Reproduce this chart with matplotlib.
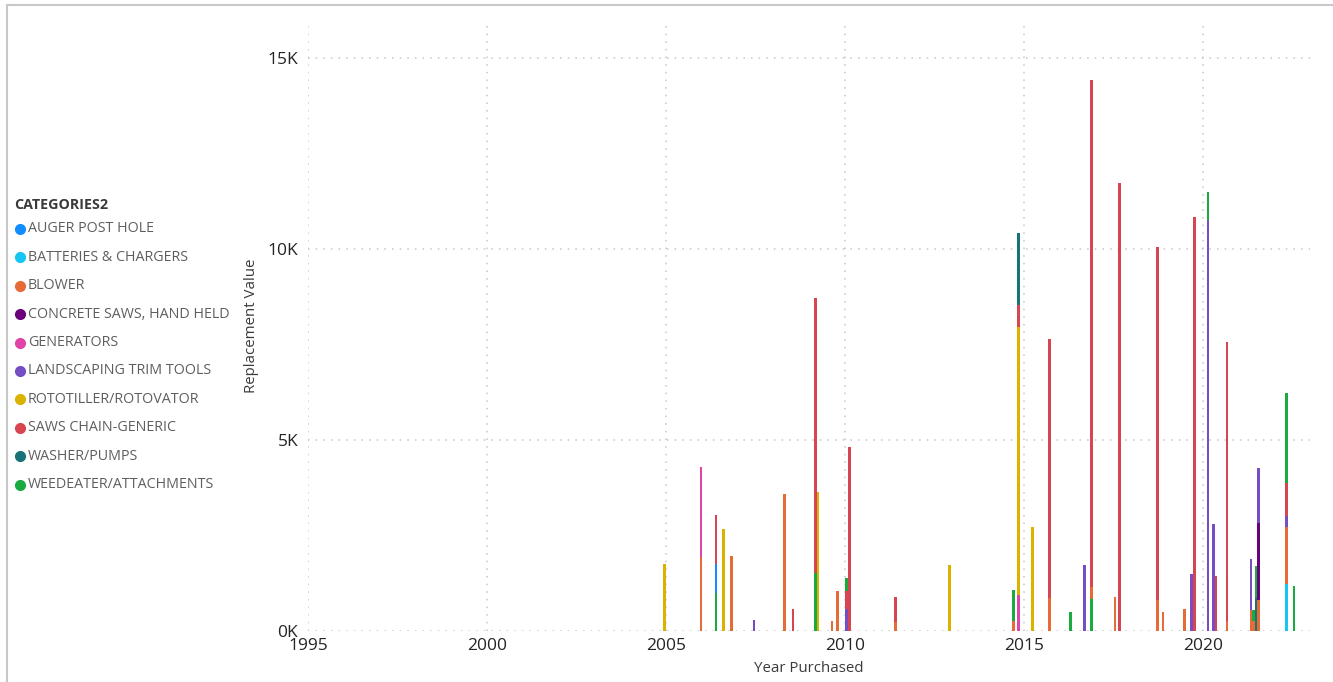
import matplotlib
matplotlib.use("Agg")
import matplotlib.pyplot as plt
from matplotlib.lines import Line2D
from matplotlib.ticker import FuncFormatter, MultipleLocator

plt.rcParams['font.family'] = ['Open Sans', 'DejaVu Sans']

# Kategorier og farger (Power BI-tema)
categories = ['AUGER POST HOLE', 'BATTERIES & CHARGERS', 'BLOWER',
              'CONCRETE SAWS, HAND HELD', 'GENERATORS', 'LANDSCAPING TRIM TOOLS',
              'ROTOTILLER/ROTOVATOR', 'SAWS CHAIN-GENERIC', 'WASHER/PUMPS',
              'WEEDEATER/ATTACHMENTS']
colors = ['#118DFF', '#15C6F4', '#E66C37', '#6B007B', '#E044A7',
          '#744EC2', '#D9B300', '#D64550', '#197278', '#1AAB40']

# Innkjopsdato (desimalaar) for hver stolpe
dates = [2004.97, 2005.98, 2006.40, 2006.62, 2006.84, 2007.46, 2008.32, 2008.55,
         2009.18, 2009.25, 2009.64, 2009.80, 2010.05, 2010.14, 2011.42, 2012.93,
         2014.71, 2014.86, 2015.24, 2015.73, 2016.30, 2016.70, 2016.90, 2017.55,
         2017.67, 2018.73, 2018.89, 2019.50, 2019.68, 2019.78, 2020.15, 2020.30,
         2020.37, 2020.68, 2021.35, 2021.42, 2021.50, 2021.57, 2022.34, 2022.55]

# Erstatningsverdi per kategori (samme rekkefolge som dates)
auger     = [0, 0, 760, 0, 0, 0, 0, 0, 0, 0, 0, 0, 0, 0, 0, 0,
             0, 0, 0, 0, 0, 0, 0, 0, 0, 0, 0, 0, 0, 0, 0, 0,
             0, 0, 0, 0, 0, 0, 0, 0]
batteries = [0, 0, 0, 0, 0, 0, 0, 0, 0, 0, 0, 0, 0, 0, 0, 0,
             0, 0, 0, 0, 0, 0, 0, 0, 0, 0, 0, 0, 0, 0, 0, 0,
             0, 0, 0, 0, 0, 0, 1230, 0]
blower    = [0, 1940, 0, 0, 1970, 0, 3600, 0, 0, 0, 270, 1050, 0, 0, 240, 0,
             250, 0, 0, 870, 0, 0, 300, 900, 0, 800, 490, 580, 0, 0, 0, 0,
             0, 250, 550, 250, 0, 810, 1490, 0]
concrete  = [0, 0, 0, 0, 0, 0, 0, 0, 0, 0, 0, 0, 0, 0, 0, 0,
             0, 0, 0, 0, 0, 0, 0, 0, 0, 0, 0, 0, 0, 0, 0, 0,
             0, 0, 0, 0, 0, 2030, 0, 0]
generators = [0, 2360, 0, 0, 0, 0, 0, 0, 0, 0, 0, 0, 0, 0, 0, 0,
              0, 940, 0, 0, 0, 0, 0, 0, 0, 0, 0, 0, 0, 0, 0, 0,
              0, 0, 0, 0, 0, 0, 0, 0]
landscaping = [0, 0, 0, 0, 0, 290, 0, 0, 0, 0, 0, 0, 580, 0, 0, 0,
               0, 0, 0, 0, 0, 1720, 0, 0, 0, 0, 0, 0, 1500, 0, 10760, 2800,
               0, 0, 1340, 0, 0, 1430, 280, 0]
rototiller = [1760, 0, 0, 2680, 0, 0, 0, 0, 0, 3630, 0, 0, 0, 0, 0, 1730,
              0, 7010, 2730, 0, 0, 0, 0, 0, 0, 0, 0, 0, 0, 0, 0, 0,
              0, 0, 0, 0, 0, 0, 0, 0]
saws_chain = [0, 0, 1280, 0, 0, 0, 0, 580, 7190, 0, 0, 0, 470, 4830, 660, 0,
              0, 580, 0, 6770, 0, 0, 13280, 0, 11730, 9260, 0, 0, 0, 10850, 0, 0,
              1430, 7330, 0, 0, 0, 0, 880, 0]
washer    = [0, 0, 0, 0, 0, 0, 0, 0, 0, 0, 0, 0, 0, 0, 0, 0,
             0, 1900, 0, 0, 0, 0, 0, 0, 0, 0, 0, 0, 0, 0, 0, 0,
             0, 0, 0, 0, 860, 0, 0, 0]
weedeater = [0, 0, 1000, 0, 0, 0, 0, 0, 1520, 0, 0, 0, 350, 0, 0, 0,
             820, 0, 0, 0, 490, 0, 850, 0, 0, 0, 0, 0, 0, 0, 740, 0,
             0, 0, 0, 300, 830, 0, 2360, 1190]

# stolper der WEEDEATER ligger nederst i stabelen
weed_first = [2006.40, 2009.18, 2016.90]

series = [auger, batteries, blower, concrete, generators, landscaping,
          rototiller, saws_chain, washer, weedeater]

W, H = 1333, 682
fig = plt.figure(figsize=(W / 100, H / 100), dpi=100)
ax = fig.add_axes([308 / W, (H - 631) / H, (1310 - 308) / W, (631 - 20) / H])

bar_w = 0.075
for i, d in enumerate(dates):
    order = list(range(len(categories)))
    if d in weed_first:
        order = [9] + order[:9]
    bottom = 0
    for k in order:
        v = series[k][i]
        if v > 0:
            ax.bar(d, v, width=bar_w, bottom=bottom, color=colors[k],
                   linewidth=0, zorder=3)
            bottom += v

ax.set_xlim(1995, 2023)
ax.set_ylim(0, 16000)
ax.xaxis.set_major_locator(MultipleLocator(5))
ax.yaxis.set_major_locator(MultipleLocator(5000))
ax.yaxis.set_major_formatter(FuncFormatter(lambda v, p: f'{int(v / 1000)}K'))
ax.grid(True, color='#C8C6C4', linestyle=(0, (1, 4)), linewidth=1.1, zorder=0)
for s in ax.spines.values():
    s.set_visible(False)
ax.tick_params(length=0, labelsize=12.5, labelcolor='#252423')
ax.tick_params(axis='y', pad=7)
ax.tick_params(axis='x', pad=5)

ax.set_xlabel('Year Purchased', fontsize=10.8, color='#3B3A39', labelpad=5)
ax.set_ylabel('Replacement Value', fontsize=10.8, color='#3B3A39', labelpad=6)

# Legende til venstre
fig.text(14 / W, 1 - 205 / H, 'CATEGORIES2', fontsize=10.3, fontweight='bold',
         color='#3B3A39', va='center', ha='left')
for j, (name, c) in enumerate(zip(categories, colors)):
    yy = 1 - (229 + j * 28.4) / H
    fig.add_artist(Line2D([20 / W], [yy], marker='o', markersize=7,
                          color=c, linestyle='None', transform=fig.transFigure))
    fig.text(28 / W, yy, name, fontsize=10.3, color='#605E5C',
             va='center', ha='left')

# Ramme
fig.add_artist(Line2D([7 / W, 1], [1 - 5 / H, 1 - 5 / H], color='#C8C8C8',
                      linewidth=1.5, transform=fig.transFigure))
fig.add_artist(Line2D([7 / W, 7 / W], [0, 1 - 5 / H], color='#C8C8C8',
                      linewidth=1.5, transform=fig.transFigure))

fig.savefig('out.png', dpi=100)
